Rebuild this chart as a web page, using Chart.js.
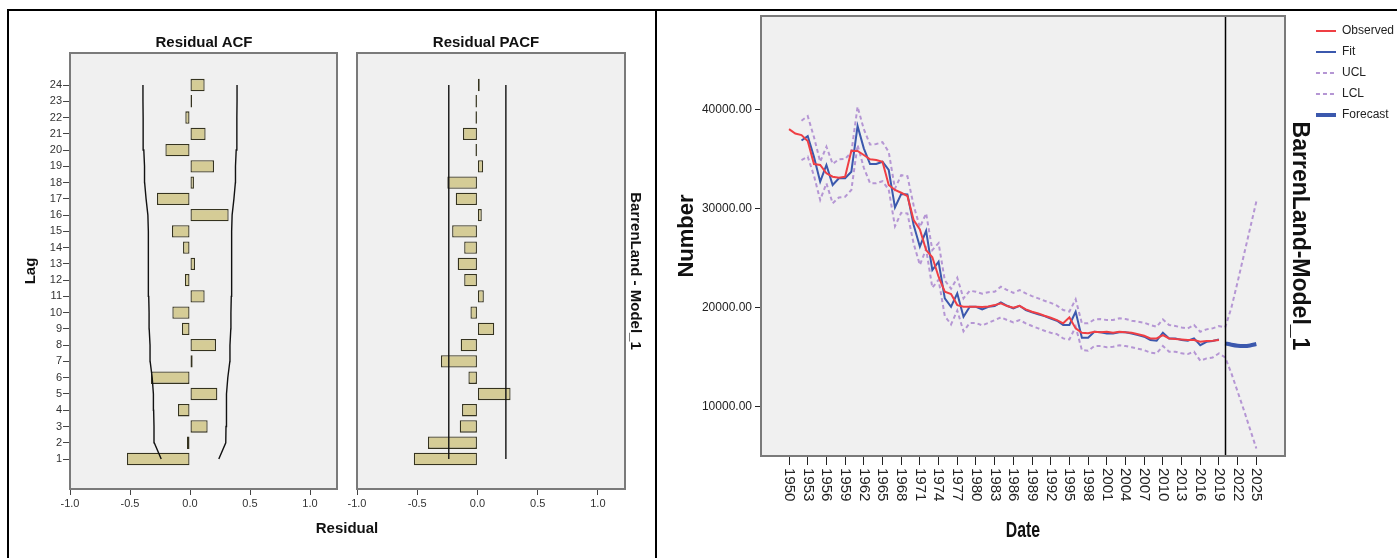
<!DOCTYPE html>
<html><head><meta charset="utf-8">
<script src="https://cdn.jsdelivr.net/npm/chart.js@4.4.1/dist/chart.umd.min.js"></script>
<style>
html,body{margin:0;padding:0;background:#fff;width:1397px;height:558px;overflow:hidden;font-family:'Liberation Sans',Arial,sans-serif;}
.cv{position:absolute;top:0;}
.lbl{position:absolute;font-weight:bold;color:#111;white-space:nowrap;transform:translate(-50%,-50%);}
.frame{position:absolute;background:#000;}
</style></head><body>
<div class="frame" style="left:7px;top:9px;width:2px;height:549px"></div>
<div class="frame" style="left:7px;top:9px;width:1390px;height:2px"></div>
<div class="frame" style="left:655px;top:9px;width:2px;height:549px"></div>
<div class="cv" style="left:0;"><canvas id="acf" width="345" height="558"></canvas></div>
<div class="cv" style="left:345px;"><canvas id="pacf" width="311" height="558"></canvas></div>
<div class="cv" style="left:660px;"><canvas id="ts" width="744" height="558"></canvas></div>
<div class="lbl" style="left:204px;top:41px;font-size:15px;">Residual ACF</div>
<div class="lbl" style="left:486px;top:41px;font-size:15px;">Residual PACF</div>
<div class="lbl" style="left:347px;top:527px;font-size:15px;">Residual</div>
<div class="lbl" style="left:1023px;top:530px;font-size:22px;transform:translate(-50%,-50%) scaleX(0.72);">Date</div>
<script>
// ---------- Residual ACF / PACF data ----------
const lags = [1,2,3,4,5,6,7,8,9,10,11,12,13,14,15,16,17,18,19,20,21,22,23,24];
const acfValues = [-0.525,-0.025,0.147,-0.100,0.228,-0.325,0.022,0.217,-0.067,-0.147,0.122,-0.042,0.042,-0.058,-0.150,0.322,-0.275,0.033,0.200,-0.205,0.130,-0.039,0.008,0.122];
const acfUpper = [0.240,0.298,0.300,0.303,0.305,0.315,0.332,0.333,0.340,0.341,0.344,0.346,0.347,0.347,0.348,0.351,0.366,0.378,0.379,0.385,0.390,0.391,0.392,0.392];
const acfLower = [-0.240,-0.298,-0.300,-0.303,-0.305,-0.315,-0.332,-0.333,-0.340,-0.341,-0.344,-0.346,-0.347,-0.347,-0.348,-0.351,-0.366,-0.378,-0.379,-0.385,-0.390,-0.391,-0.392,-0.392];
const pacfValues = [-0.528,-0.411,-0.147,-0.128,0.275,-0.075,-0.303,-0.139,0.139,-0.058,0.053,-0.110,-0.164,-0.110,-0.210,0.036,-0.180,-0.250,0.047,-0.010,-0.120,-0.008,-0.008,0.019];
const pacfUpper = [0.236,0.236,0.236,0.236,0.236,0.236,0.236,0.236,0.236,0.236,0.236,0.236,0.236,0.236,0.236,0.236,0.236,0.236,0.236,0.236,0.236,0.236,0.236,0.236];
const pacfLower = [-0.238,-0.238,-0.238,-0.238,-0.238,-0.238,-0.238,-0.238,-0.238,-0.238,-0.238,-0.238,-0.238,-0.238,-0.238,-0.238,-0.238,-0.238,-0.238,-0.238,-0.238,-0.238,-0.238,-0.238];
const residualTicks = [-1.0,-0.5,0.0,0.5,1.0];

// ---------- Time series data ----------
const histYears = [1950,1951,1952,1953,1954,1955,1956,1957,1958,1959,1960,1961,1962,1963,1964,1965,1966,1967,1968,1969,1970,1971,1972,1973,1974,1975,1976,1977,1978,1979,1980,1981,1982,1983,1984,1985,1986,1987,1988,1989,1990,1991,1992,1993,1994,1995,1996,1997,1998,1999,2000,2001,2002,2003,2004,2005,2006,2007,2008,2009,2010,2011,2012,2013,2014,2015,2016,2017,2018,2019];
const observed = [38000,37550,37400,36800,34480,34380,33540,33200,33100,33200,
35820,35800,35390,34950,34880,34710,32360,31860,31585,31250,
28830,27890,25800,25070,23110,21600,21360,20250,20080,20080,
20080,20050,20100,20250,20420,20150,19980,20180,19820,19580,
19410,19170,18970,18740,18410,19010,17900,17460,17400,17560,
17500,17560,17460,17560,17500,17460,17300,17150,16890,16890,
17220,16890,16830,16790,16720,16720,16550,16620,16650,16720];
const fit = [null,null,36850,37300,35200,32700,34380,32360,33040,33040,
33700,38315,36065,34480,34480,34710,33875,30100,31450,31420,
28330,26140,27750,23785,24620,20930,20080,21430,19070,20080,
20080,19820,20080,20150,20520,20180,19920,20180,19750,19520,
19310,19140,18900,18670,18240,18240,19580,16960,16960,17560,
17500,17390,17390,17500,17500,17390,17220,17060,16720,16650,
17460,16890,16890,16720,16650,16890,16210,16550,16620,16790];
const ucl = [null,null,38850,39320,37200,34710,36230,34500,34950,35000,
35650,40260,38000,36450,36500,36680,35700,32000,33350,33250,
30300,28100,29500,25800,26500,22750,21900,23000,20930,21700,
21600,21400,21550,21600,22100,21770,21490,21770,21430,21160,
20930,20690,20480,20200,19750,19600,20830,18410,18410,18790,
18840,18740,18740,18910,18850,18680,18570,18470,18240,18070,
18810,18240,18140,18000,17900,18240,17560,17800,17900,18140];
const lcl = [null,null,34880,35220,33300,30850,32530,30510,31100,31180,
31860,36400,34100,32550,32550,32750,31900,28200,29550,29500,
26450,24300,25900,22000,22800,19150,18300,19700,17600,18450,
18450,18200,18450,18740,19010,18740,18510,18740,18410,18140,
17900,17660,17460,17320,16890,16790,18070,15710,15640,16120,
16120,15990,16050,16190,16120,15990,15850,15710,15450,15380,
16120,15550,15550,15380,15310,15550,14640,14870,14970,15380];
const foreYears = [2020,2021,2022,2023,2024,2025];
const forecast = [16390,16250,16150,16120,16180,16320];
const forecastUCL = [18000,20000,22600,25300,28000,30700];
const forecastLCL = [14980,13360,11510,9660,7710,5790];
const forecastStart = 2020;
const dateTicks = [1950,1953,1956,1959,1962,1965,1968,1971,1974,1977,1980,1983,1986,1989,1992,1995,1998,2001,2004,2007,2010,2013,2016,2019,2022,2025];
const numberTicks = [10000,20000,30000,40000];

// ---------- styles ----------
const FONT = "'Liberation Sans', Arial, sans-serif";
const BAR_FILL = '#d5cc96';
const BAR_EDGE = '#35331f';
const BOX_EDGE = '#7a7a7a';

const plotBox = {
  id: 'plotBox',
  beforeDraw(chart) {
    const {ctx, chartArea: a} = chart;
    ctx.save(); ctx.fillStyle = '#f0f0f0';
    ctx.fillRect(a.left, a.top, a.right - a.left, a.bottom - a.top);
    ctx.restore();
  },
  afterDraw(chart) {
    const {ctx, chartArea: a} = chart;
    ctx.save(); ctx.strokeStyle = BOX_EDGE; ctx.lineWidth = 2;
    ctx.strokeRect(a.left, a.top, a.right - a.left, a.bottom - a.top);
    ctx.restore();
  }
};

function pairs(xs, ys) { return xs.map((x, i) => ({x: x, y: ys[i]})); }

function residualAxis() {
  return {
    type: 'linear', min: -1, max: 1.225,
    afterBuildTicks: s => { s.ticks = residualTicks.map(v => ({value: v})); },
    ticks: {callback: v => v.toFixed(1), font: {size: 11, family: FONT}, color: '#333', padding: 2, maxRotation: 0, autoSkip: false},
    grid: {drawOnChartArea: false, tickLength: 6, color: '#444', lineWidth: 1},
    border: {display: false},
    afterFit: s => { s.height = 69; }
  };
}

function lagChart(id, values, lower, upper, isAcf) {
  const scales = {
    x: residualAxis(),
    y: {
      type: 'linear', min: -0.845, max: 25.97, display: isAcf, offset: false,
      afterBuildTicks: s => { s.ticks = lags.map(v => ({value: v})); },
      ticks: {callback: v => String(v), font: {size: 11, family: FONT}, color: '#333', padding: 1, autoSkip: false},
      grid: {drawOnChartArea: false, offset: false, tickLength: 7, color: '#444', lineWidth: 1},
      border: {display: false},
      title: {display: true, text: 'Lag', color: '#111', font: {size: 15, weight: 'bold', family: FONT}, padding: {top: 22, bottom: 0}}
    }
  };
  if (isAcf) {
    scales.y.afterFit = s => { s.width = 70; };
  } else {
    scales.yR = {
      type: 'linear', position: 'right', display: true,
      grid: {display: false}, border: {display: false}, ticks: {display: false},
      title: {display: true, text: 'BarrenLand - Model_1', color: '#111', font: {size: 15, weight: 'bold', family: FONT}, padding: {top: 12, bottom: 0}},
      afterFit: s => { s.width = 31; }
    };
  }
  return new Chart(document.getElementById(id), {
    data: {
      datasets: [
        {type: 'bar', data: pairs(values, lags), backgroundColor: BAR_FILL, borderColor: BAR_EDGE, borderWidth: 1.3, borderSkipped: false, minBarLength: 2, barPercentage: 0.95, order: 2},
        {type: 'line', data: pairs(upper, lags), borderColor: '#111', borderWidth: 1.4, pointRadius: 0, tension: 0, order: 1},
        {type: 'line', data: pairs(lower, lags), borderColor: '#111', borderWidth: 1.4, pointRadius: 0, tension: 0, order: 1}
      ]
    },
    options: {
      indexAxis: 'y', responsive: false, animation: false,
      layout: {padding: isAcf ? {top: 53, right: 8, left: 0, bottom: 0} : {top: 53, right: 0, left: 12, bottom: 0}},
      plugins: {legend: {display: false}, tooltip: {enabled: false}},
      scales: scales
    },
    plugins: [plotBox]
  });
}

lagChart('acf', acfValues, acfLower, acfUpper, true);
lagChart('pacf', pacfValues, pacfLower, pacfUpper, false);

// ---------- time series ----------
const yearLabels = {
  id: 'yearLabels',
  afterDraw(chart) {
    const s = chart.scales.x, ctx = chart.ctx;
    ctx.save();
    ctx.font = '15px ' + FONT; ctx.fillStyle = '#222';
    ctx.textAlign = 'left'; ctx.textBaseline = 'middle';
    dateTicks.forEach(v => {
      const x = s.getPixelForValue(v);
      ctx.save(); ctx.translate(x, s.top + 12); ctx.rotate(Math.PI / 2);
      ctx.fillText(String(v), 0, 0); ctx.restore();
    });
    ctx.restore();
  }
};
const forecastLine = {
  id: 'forecastLine',
  afterDatasetsDraw(chart) {
    const s = chart.scales.x, a = chart.chartArea, ctx = chart.ctx;
    const x = Math.round(s.getPixelForValue(forecastStart)) + 0.5;
    ctx.save(); ctx.strokeStyle = '#000'; ctx.lineWidth = 1.5;
    ctx.beginPath(); ctx.moveTo(x, a.top); ctx.lineTo(x, a.bottom); ctx.stroke();
    ctx.restore();
  }
};

const RED = '#ef3f44', BLUE = '#3b58ad', LAV = '#b596d4';
const RIGHT_SPACE = 119; // canvas width minus chart-area right edge
new Chart(document.getElementById('ts'), {
  type: 'line',
  data: {
    datasets: [
      {label: 'Observed', data: pairs(histYears, observed), borderColor: RED, borderWidth: 2, pointRadius: 0, tension: 0},
      {label: 'Fit', data: pairs(histYears, fit), borderColor: BLUE, borderWidth: 2, pointRadius: 0, tension: 0},
      {label: 'UCL', data: pairs(histYears.concat(foreYears), ucl.concat(forecastUCL)), borderColor: LAV, borderWidth: 2, borderDash: [4, 3], pointRadius: 0, tension: 0},
      {label: 'LCL', data: pairs(histYears.concat(foreYears), lcl.concat(forecastLCL)), borderColor: LAV, borderWidth: 2, borderDash: [4, 3], pointRadius: 0, tension: 0},
      {label: 'Forecast', data: pairs(foreYears, forecast), borderColor: BLUE, borderWidth: 4, pointRadius: 0, tension: 0.3}
    ]
  },
  options: {
    responsive: false, animation: false,
    layout: {padding: {top: 16, right: 0, left: 0, bottom: 0}},
    plugins: {
      tooltip: {enabled: false},
      legend: {
        display: true, position: 'right', align: 'start',
        labels: {
          usePointStyle: true, pointStyleWidth: 20, padding: 9,
          font: {size: 12, family: FONT}, color: '#222',
          generateLabels: chart => chart.data.datasets.map((d, i) => ({
            text: d.label, strokeStyle: d.borderColor, fillStyle: d.borderColor,
            lineWidth: d.borderWidth, lineDash: d.borderDash || [], pointStyle: 'line',
            hidden: false, datasetIndex: i, fontColor: '#222'
          }))
        }
      }
    },
    scales: {
      x: {
        type: 'linear', min: 1945.5, max: 2029.6,
        afterBuildTicks: s => { s.ticks = dateTicks.map(v => ({value: v})); },
        ticks: {display: false},
        grid: {drawOnChartArea: false, tickLength: 9, color: '#222', lineWidth: 1},
        border: {display: false},
        afterFit: s => { s.height = 102; }
      },
      y: {
        type: 'linear', min: 5027, max: 49412,
        afterBuildTicks: s => { s.ticks = numberTicks.map(v => ({value: v})); },
        ticks: {callback: v => v.toFixed(2), font: {size: 12, family: FONT}, color: '#222', padding: 3},
        grid: {drawOnChartArea: false, tickLength: 6, color: '#222', lineWidth: 1},
        border: {display: false},
        title: {display: true, text: 'Number', color: '#111', font: {size: 22, weight: 'bold', family: FONT}, padding: {top: 14, bottom: 0}},
        afterFit: s => { s.width = 101; }
      },
      yR: {
        type: 'linear', position: 'right', display: true,
        grid: {display: false}, border: {display: false}, ticks: {display: false},
        title: {display: true, text: 'BarrenLand-Model_1', color: '#111', font: {size: 23, weight: 'bold', family: FONT, lineHeight: 1}, padding: {top: -4, bottom: 0}},
        afterFit: s => { const lg = s.chart.legend; s.width = RIGHT_SPACE - (lg ? lg.width : 0); }
      }
    }
  },
  plugins: [plotBox, yearLabels, forecastLine]
});
</script>
</body></html>
